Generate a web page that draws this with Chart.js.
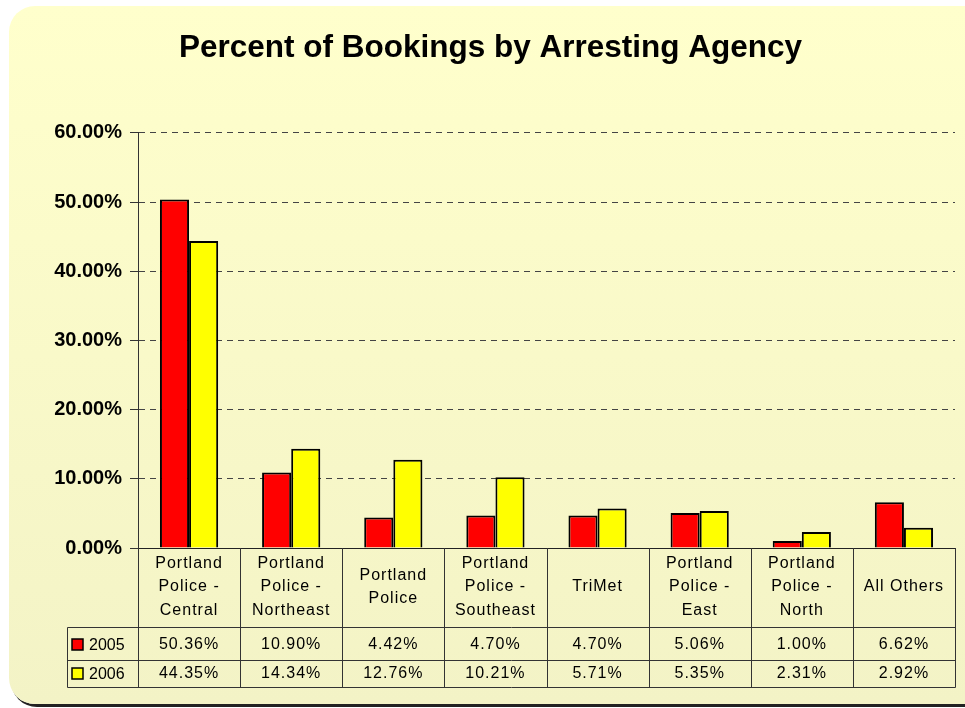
<!DOCTYPE html>
<html>
<head>
<meta charset="utf-8">
<script src="https://cdn.jsdelivr.net/npm/chart.js@4.4.1/dist/chart.umd.min.js"></script>
<style>
  html, body { margin: 0; padding: 0; background: #ffffff; }
  #wrap { position: relative; width: 965px; height: 708px; overflow: hidden; }
  #card {
    position: absolute; left: 9px; top: 6px; width: 990px; height: 698px;
    border-radius: 26px;
    background: linear-gradient(#ffffcc, #f3f3c6);
    box-shadow: 2px 3px 0 #222;
  }
  #myChart { position: absolute; left: 0; top: 0; }
</style>
</head>
<body>
<div id="wrap">
  <div id="card"></div>
  <canvas id="myChart" width="965" height="708"></canvas>
</div>
<script>
// dados
const categorias = [
    ['Portland', 'Police -', 'Central'],
    ['Portland', 'Police -', 'Northeast'],
    ['Portland', 'Police'],
    ['Portland', 'Police -', 'Southeast'],
    ['TriMet'],
    ['Portland', 'Police -', 'East'],
    ['Portland', 'Police -', 'North'],
    ['All Others']
];
const anos = ['2005', '2006'];
const valores2005 = [50.36, 10.90, 4.42, 4.70, 4.70, 5.06, 1.00, 6.62];
const valores2006 = [44.35, 14.34, 12.76, 10.21, 5.71, 5.35, 2.31, 2.92];
const coresAnos = ['#ff0000', '#ffff00'];
const ticksY = [0, 10, 20, 30, 40, 50, 60];

const fonte = '"Liberation Sans", Arial, sans-serif';

// desenha a tabela de dados embaixo do eixo
const tabelaPlugin = {
    id: 'tabela',
    afterDraw(chart) {
        const ctx = chart.ctx;
        const area = chart.chartArea;
        const x = chart.scales.x;
        const n = categorias.length;
        const larg = (area.right - area.left) / n;
        const topo = area.bottom;
        const linha1 = 627.5;
        const linha2 = 660.5;
        const fim = 687.5;
        const esq = 67.5;

        ctx.save();
        ctx.strokeStyle = '#333333';
        ctx.lineWidth = 1;
        ctx.beginPath();
        for (let i = 0; i <= n; i++) {
            const xx = Math.round(area.left + i * larg) + 0.5;
            ctx.moveTo(xx, topo);
            ctx.lineTo(xx, fim);
        }
        ctx.moveTo(esq, linha1);
        ctx.lineTo(esq, fim);
        [linha1, linha2, fim].forEach(function (yy) {
            ctx.moveTo(esq, yy);
            ctx.lineTo(area.right + 0.5, yy);
        });
        ctx.stroke();

        ctx.fillStyle = '#000000';
        ctx.font = '16px ' + fonte;
        ctx.letterSpacing = '1px';
        ctx.textAlign = 'center';
        ctx.textBaseline = 'middle';

        // rótulos das categorias
        categorias.forEach(function (cat, i) {
            const cx = x.getPixelForTick(i);
            const centro = 587;
            const passo = 23.5;
            const y0 = centro - (cat.length - 1) * passo / 2;
            cat.forEach(function (txt, j) {
                ctx.fillText(txt, cx, y0 + j * passo);
            });
        });

        // valores
        const linhasY = [645, 674];
        [valores2005, valores2006].forEach(function (serie, s) {
            serie.forEach(function (v, i) {
                ctx.fillText(v.toFixed(2) + '%', x.getPixelForTick(i), linhasY[s]);
            });
        });

        // legenda na tabela
        ctx.textAlign = 'left';
        ctx.letterSpacing = '0px';
        anos.forEach(function (ano, s) {
            const yy = linhasY[s];
            ctx.fillStyle = coresAnos[s];
            ctx.fillRect(72, yy - 6, 11, 11);
            ctx.strokeStyle = '#000000';
            ctx.lineWidth = 1.5;
            ctx.strokeRect(72, yy - 6, 11, 11);
            ctx.fillStyle = '#000000';
            ctx.fillText(ano, 89, yy + 1);
        });
        ctx.restore();
    }
};

const dados = {
    labels: categorias.map(c => c.join(' ')),
    datasets: [
        {
            label: anos[0],
            data: valores2005,
            backgroundColor: coresAnos[0],
            borderColor: '#000000',
            borderWidth: 2,
            categoryPercentage: 0.57,
            barPercentage: 1.0
        },
        {
            label: anos[1],
            data: valores2006,
            backgroundColor: coresAnos[1],
            borderColor: '#000000',
            borderWidth: 2,
            categoryPercentage: 0.57,
            barPercentage: 1.0
        }
    ]
};

const config = {
    type: 'bar',
    data: dados,
    options: {
        responsive: false,
        animation: false,
        layout: {
            padding: { left: 26, right: 10, top: 0, bottom: 160 }
        },
        scales: {
            x: {
                ticks: { display: false },
                grid: { display: false },
                border: { display: true, color: '#222222', width: 1 },
                afterFit: function (scale) { scale.height = 0; }
            },
            y: {
                min: 0,
                max: 60,
                afterBuildTicks: function (scale) {
                    scale.ticks = ticksY.map(v => ({ value: v }));
                },
                ticks: {
                    padding: 8,
                    color: '#000000',
                    font: { family: fonte, size: 20, weight: 'bold' },
                    callback: function (v) { return v.toFixed(2) + '%'; }
                },
                grid: {
                    color: '#444444',
                    tickLength: 8,
                    tickBorderDash: [],
                    tickColor: '#333333'
                },
                border: { display: true, color: '#333333', width: 1, dash: [6, 5] },
                afterFit: function (scale) { scale.width = 112; }
            }
        },
        plugins: {
            legend: { display: false },
            tooltip: { enabled: false },
            title: {
                display: true,
                text: 'Percent of Bookings by Arresting Agency',
                color: '#000000',
                font: { family: fonte, size: 31.5, weight: 'bold' },
                padding: { top: 29, bottom: 66 }
            }
        }
    },
    plugins: [tabelaPlugin]
};

const ctx = document.getElementById('myChart').getContext('2d');
new Chart(ctx, config);
</script>
</body>
</html>
